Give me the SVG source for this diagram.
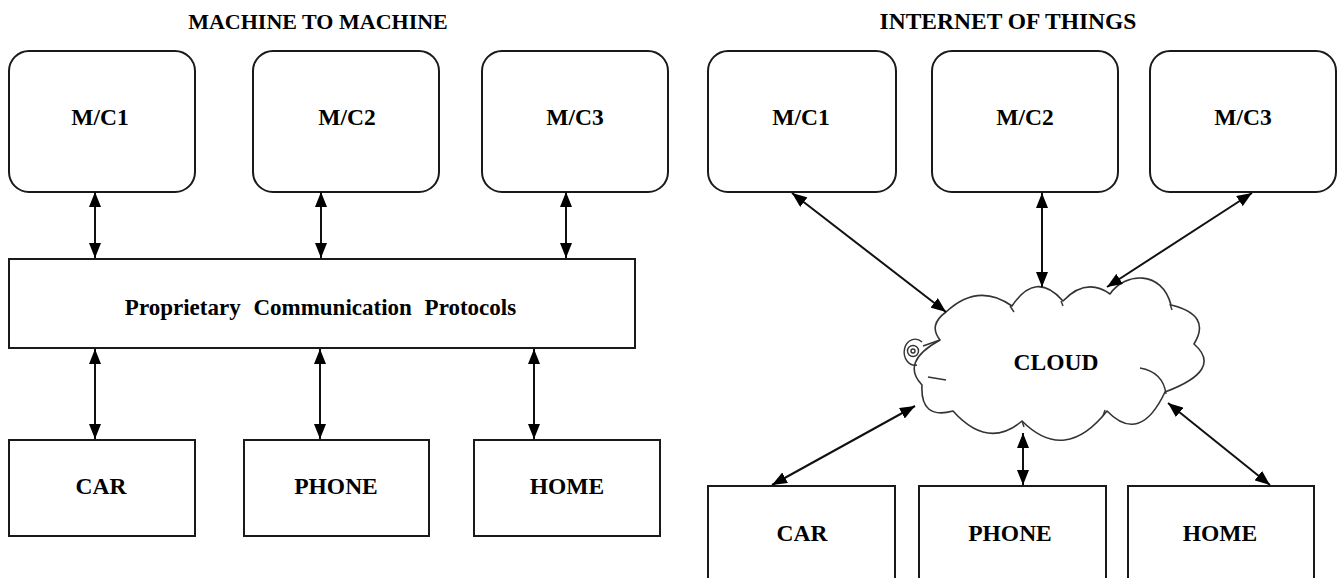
<svg xmlns="http://www.w3.org/2000/svg" width="1339" height="578" viewBox="0 0 1339 578">
<style>
.box{fill:#fff;stroke:#1a1a1a;stroke-width:2}
.lbl{font-family:"Liberation Serif","Times New Roman",serif;font-weight:bold;font-size:23.5px;fill:#000;text-anchor:middle}
.ttl{font-family:"Liberation Serif","Times New Roman",serif;font-weight:bold;font-size:22px;fill:#000;text-anchor:middle}
.arr{stroke:#111;stroke-width:2;fill:none;marker-start:url(#ah);marker-end:url(#ah)}
.cl{fill:#fff;stroke:#333;stroke-width:1.6;stroke-linejoin:round}
.deco{fill:none;stroke:#333;stroke-width:1.4}
</style>
<defs>
<marker id="ah" viewBox="0 0 15 12" refX="15" refY="6" markerWidth="15" markerHeight="12" markerUnits="userSpaceOnUse" orient="auto-start-reverse">
<path d="M0,0 L15,6 L0,12 z" fill="#000"/>
</marker>
</defs>
<rect width="1339" height="578" fill="#fff"/>

<text class="ttl" x="318" y="29">MACHINE TO MACHINE</text>
<text class="ttl" x="1008" y="29" style="font-size:23.5px">INTERNET OF THINGS</text>

<g id="m2m-mc1"><rect class="box" x="9" y="51" width="186" height="141" rx="20"/><text class="lbl" x="100" y="125">M/C1</text></g>
<g id="m2m-mc2"><rect class="box" x="253" y="51" width="186" height="141" rx="20"/><text class="lbl" x="347" y="125">M/C2</text></g>
<g id="m2m-mc3"><rect class="box" x="482" y="51" width="186" height="141" rx="20"/><text class="lbl" x="575" y="125">M/C3</text></g>
<g id="m2m-proto"><rect class="box" x="9" y="259" width="626" height="89"/><text class="lbl" x="320.5" y="315" style="font-size:23px" word-spacing="7">Proprietary Communication Protocols</text></g>
<g id="m2m-car"><rect class="box" x="9" y="440" width="186" height="96"/><text class="lbl" x="101" y="494">CAR</text></g>
<g id="m2m-phone"><rect class="box" x="244" y="440" width="185" height="96"/><text class="lbl" x="336" y="494">PHONE</text></g>
<g id="m2m-home"><rect class="box" x="474" y="440" width="186" height="96"/><text class="lbl" x="567" y="494">HOME</text></g>

<g id="iot-mc1"><rect class="box" x="708" y="51" width="188" height="141" rx="20"/><text class="lbl" x="801" y="125">M/C1</text></g>
<g id="iot-mc2"><rect class="box" x="932" y="51" width="186" height="141" rx="20"/><text class="lbl" x="1025" y="125">M/C2</text></g>
<g id="iot-mc3"><rect class="box" x="1150" y="51" width="186" height="141" rx="20"/><text class="lbl" x="1243" y="125">M/C3</text></g>

<g id="iot-cloud">
<path class="cl" d="M940,340 Q928,325 946,312 Q978,282 1012,306 Q1036,270 1063,301 Q1086,277 1110,294 C1125,272 1162,270 1171,305 Q1212,315 1194,344 Q1224,370 1165,392 Q1140,445 1107,411 Q1065,464 1022,421 Q988,450 953,411 Q920,420 922,385 Q900,362 940,340 Z"/>
<path class="deco" d="M1140,368 Q1163,372 1166,394"/>
<path class="deco" d="M928,377 L946,380"/>
<path class="deco" d="M1010,306 L1014,312"/>
<path class="deco" d="M1061,301 L1063,306"/>
<path class="deco" d="M1170,304 L1172,310"/>
<path class="deco" d="M1105,410 L1103,416"/>
<path class="deco" d="M1022,421 L1024,427"/>
<path class="deco" d="M940,340 L923,346"/>
<path class="deco" d="M917,365 A11 13 0 1 1 922 342"/>
<circle class="deco" cx="913" cy="351" r="5.5"/>
<circle class="deco" cx="913" cy="351" r="2"/>
<text class="lbl" x="1056" y="370">CLOUD</text>
</g>

<g id="iot-car"><path class="box" d="M708,578 V486 H895 V578"/><text class="lbl" x="802" y="541">CAR</text></g>
<g id="iot-phone"><path class="box" d="M919,578 V486 H1106 V578"/><text class="lbl" x="1010" y="541">PHONE</text></g>
<g id="iot-home"><path class="box" d="M1128,578 V486 H1314 V578"/><text class="lbl" x="1220" y="541">HOME</text></g>

<g id="connectors">
<line class="arr" x1="95" y1="192" x2="95" y2="258"/>
<line class="arr" x1="321" y1="192" x2="321" y2="258"/>
<line class="arr" x1="566" y1="192" x2="566" y2="258"/>
<line class="arr" x1="95" y1="349" x2="95" y2="439"/>
<line class="arr" x1="320" y1="349" x2="320" y2="439"/>
<line class="arr" x1="534" y1="349" x2="534" y2="439"/>
<line class="arr" x1="792" y1="193" x2="946" y2="312"/>
<line class="arr" x1="1042" y1="193" x2="1042" y2="287"/>
<line class="arr" x1="1252" y1="193" x2="1107" y2="287"/>
<line class="arr" x1="772" y1="485" x2="915" y2="406"/>
<line class="arr" x1="1023" y1="433" x2="1023" y2="485"/>
<line class="arr" x1="1168" y1="403" x2="1270" y2="485"/>
</g>
</svg>
